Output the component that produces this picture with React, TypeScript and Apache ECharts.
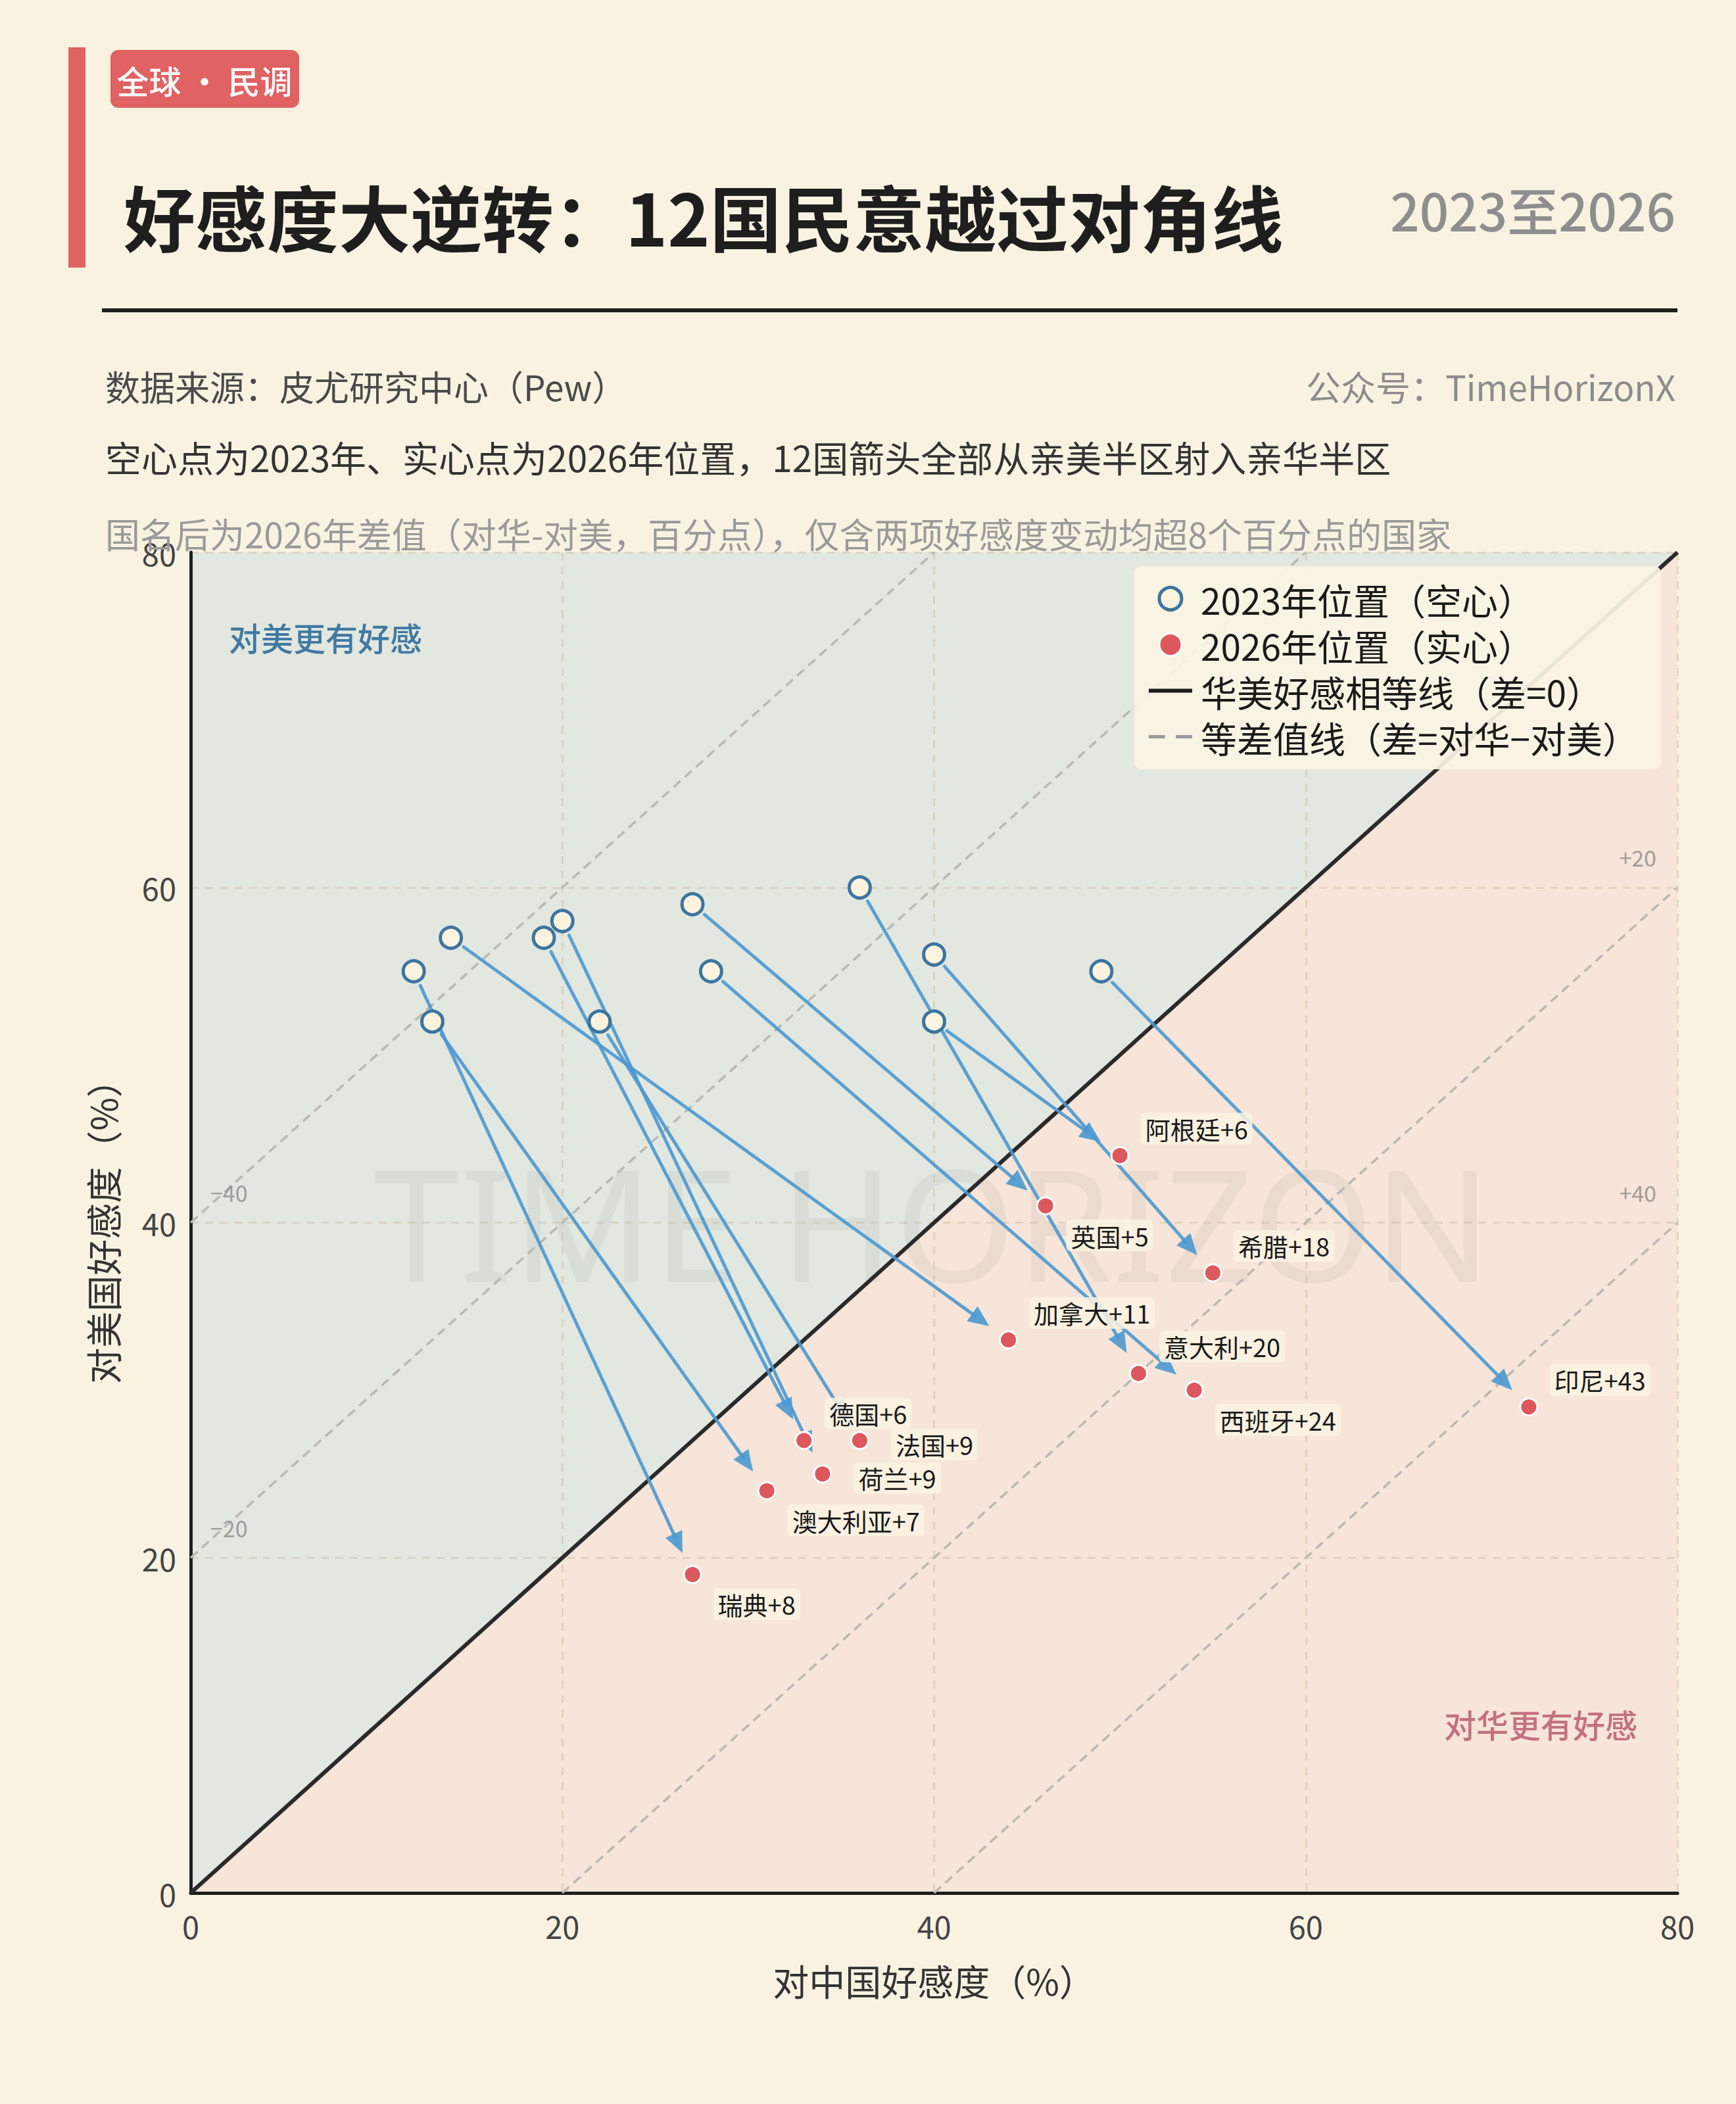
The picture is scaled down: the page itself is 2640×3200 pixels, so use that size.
import React, { useEffect, useRef } from 'react';
import * as echarts from 'echarts';

const FONT = '"Noto Sans CJK SC", "Noto Sans", sans-serif';

// Countries whose favourability towards both China and the US moved by more than 8 points
const countries = ['阿根廷', '英国', '希腊', '加拿大', '意大利', '西班牙', '印尼', '德国', '法国', '荷兰', '澳大利亚', '瑞典'];
// Favourability towards China (%)
const china2023 = [40, 27, 40, 14, 36, 28, 49, 19, 22, 20, 13, 12];
const china2026 = [50, 46, 55, 44, 51, 54, 72, 33, 36, 34, 31, 27];
// Favourability towards the US (%)
const usa2023 = [52, 59, 56, 57, 60, 55, 55, 57, 52, 58, 52, 55];
const usa2026 = [44, 41, 37, 33, 31, 30, 29, 27, 27, 25, 24, 19];

// Where each country's label sits relative to its 2026 dot
const labelSide = ['ur', 'dr', 'ur', 'ur', 'ur', 'dr', 'ur', 'ur', 'r', 'r', 'dr', 'dr'];

// Reference lines: China minus US = constant
const diffLevels = [-40, -20, 20, 40];
const axisMin = 0;
const axisMax = 80;
const axisStep = 20;

const NAME_2023 = '2023年位置（空心）';
const NAME_2026 = '2026年位置（实心）';
const NAME_EQ = '华美好感相等线（差=0）';
const NAME_DIFF = '等差值线（差=对华−对美）';

const C_BG = '#FAF2E1';
const C_US_ZONE = '#E2E7DF';
const C_CN_ZONE = '#F6E5D8';
const C_RING = '#3C75A0';
const C_DOT = '#DD585C';
const C_ARROW = '#4B98D0';
const C_RED = '#E06262';

const labelOffsets: Record<string, number[]> = {
  ur: [17, -41],
  dr: [17, 45],
  r: [33, 6],
};

const signed = (d: number) => (d > 0 ? `+${d}` : `−${Math.abs(d)}`);

export default function App() {
  const ref = useRef<HTMLDivElement>(null);

  useEffect(() => {
    document.body.style.margin = '0';
    document.body.style.background = C_BG;
    const chart = echarts.init(ref.current!, null, { renderer: 'svg' });

    const zones = [
      [[axisMin, axisMin], [axisMin, axisMax], [axisMax, axisMax]],
      [[axisMin, axisMin], [axisMax, axisMin], [axisMax, axisMax]],
    ];
    const zoneFills = [C_US_ZONE, C_CN_ZONE];

    const arrows = countries.map((_, i) => [china2023[i], usa2023[i], china2026[i], usa2026[i]]);

    const dots2026 = countries.map((name, i) => ({
      name,
      value: [china2026[i], usa2026[i], china2026[i] - usa2026[i]],
      label: { offset: labelOffsets[labelSide[i]] },
    }));

    const diffSeries = diffLevels.map((d) => ({
      name: NAME_DIFF,
      type: 'line',
      z: 2,
      silent: true,
      symbol: 'none',
      color: '#B9B9B4',
      lineStyle: { color: '#B9B9B4', width: 3.5, type: [14, 9] },
      data: d < 0
        ? [[axisMin, axisMin - d], [axisMax + d, axisMax]]
        : [[axisMin + d, axisMin], [axisMax, axisMax - d]],
    }));

    const diffLabelData = diffLevels.map((d) => ({
      value: d < 0 ? [axisMin, axisMin - d] : [axisMax, axisMax - d],
      name: signed(d),
      label: d < 0
        ? { position: 'right', offset: [30, -46] }
        : { position: 'left', offset: [-32, -46] },
    }));

    const option: any = {
      animation: false,
      backgroundColor: C_BG,
      textStyle: { fontFamily: FONT },
      grid: { left: 290, right: 89, top: 840, bottom: 321, containLabel: false },
      xAxis: {
        type: 'value', min: axisMin, max: axisMax, interval: axisStep, z: 1,
        name: '对中国好感度（%）', nameLocation: 'middle', nameGap: 104,
        nameTextStyle: { fontSize: 55, color: '#333', fontFamily: FONT },
        axisLine: { show: true, onZero: false, lineStyle: { color: '#1e1e1e', width: 5 } },
        axisTick: { show: false },
        axisLabel: { fontSize: 47, color: '#444', margin: 26, fontFamily: FONT },
        splitLine: { show: true, lineStyle: { color: 'rgba(205,188,160,0.45)', width: 3, type: [12, 10] } },
      },
      yAxis: {
        type: 'value', min: axisMin, max: axisMax, interval: axisStep, z: 1,
        name: '对美国好感度（%）', nameLocation: 'middle', nameGap: 108,
        nameTextStyle: { fontSize: 55, color: '#333', fontFamily: FONT },
        axisLine: { show: true, onZero: false, lineStyle: { color: '#1e1e1e', width: 5 } },
        axisTick: { show: false },
        axisLabel: { fontSize: 47, color: '#444', margin: 22, fontFamily: FONT },
        splitLine: { show: true, lineStyle: { color: 'rgba(205,188,160,0.45)', width: 3, type: [12, 10] } },
      },
      legend: {
        orient: 'vertical', right: 114, top: 861, z: 10,
        padding: [22, 34, 22, 22],
        backgroundColor: 'rgba(250,243,226,0.93)', borderRadius: 10,
        itemWidth: 66, itemHeight: 34, itemGap: 15,
        textStyle: { fontSize: 55, color: '#1a1a1a', fontFamily: FONT, padding: [0, 0, 0, 8] },
        selectedMode: false,
        data: [
          { name: NAME_2023, icon: 'circle', itemStyle: { color: '#FBF3DE', borderColor: C_RING, borderWidth: 5 } },
          { name: NAME_2026, icon: 'circle', itemStyle: { color: C_DOT, borderColor: '#ffffff', borderWidth: 3 } },
          { name: NAME_EQ, icon: 'path://M0,0H66V6H0Z', itemStyle: { color: '#1e1e1e', borderWidth: 0 } },
          { name: NAME_DIFF, icon: 'path://M0,0H24V5H0Z M40,0H64V5H40Z', itemStyle: { color: '#9a9a9a', borderWidth: 0 } },
        ],
      },
      graphic: [
        { type: 'rect', z: 5, shape: { x: 104, y: 72, width: 26, height: 335 }, style: { fill: C_RED } },
        { type: 'rect', z: 5, shape: { x: 168, y: 76, width: 287, height: 88, r: 12 }, style: { fill: C_RED } },
        { type: 'text', z: 6, x: 311, y: 121, style: { text: '全球 · 民调', fill: '#ffffff', fontSize: 49, fontFamily: FONT, fontWeight: 500, align: 'center', verticalAlign: 'middle' } },
        { type: 'text', z: 6, x: 188, y: 327, style: { text: '好感度大逆转：12国民意越过对角线', fill: '#1e1e1e', fontSize: 109, fontFamily: FONT, fontWeight: 'bold', align: 'left', verticalAlign: 'middle' } },
        { type: 'text', z: 6, x: 2548, y: 318, style: { text: '2023至2026', fill: '#8e8e8e', fontSize: 78, fontFamily: FONT, fontWeight: 500, align: 'right', verticalAlign: 'middle' } },
        { type: 'rect', z: 5, shape: { x: 155, y: 469, width: 2396, height: 6 }, style: { fill: '#1e1e1e' } },
        { type: 'text', z: 6, x: 160, y: 587, style: { text: '数据来源：皮尤研究中心（Pew）', fill: '#4a4a4a', fontSize: 53, fontFamily: FONT, align: 'left', verticalAlign: 'middle' } },
        { type: 'text', z: 6, x: 2548, y: 587, style: { text: '公众号：TimeHorizonX', fill: '#8c8c8c', fontSize: 53, fontFamily: FONT, align: 'right', verticalAlign: 'middle' } },
        { type: 'text', z: 6, x: 160, y: 694, style: { text: '空心点为2023年、实心点为2026年位置，12国箭头全部从亲美半区射入亲华半区', fill: '#333333', fontSize: 55, fontFamily: FONT, align: 'left', verticalAlign: 'middle' } },
        { type: 'text', z: 6, x: 160, y: 811, style: { text: '国名后为2026年差值（对华-对美，百分点），仅含两项好感度变动均超8个百分点的国家', fill: '#9a9a9a', fontSize: 53, fontFamily: FONT, align: 'left', verticalAlign: 'middle' } },
        { type: 'text', z: 1, x: 1418, y: 1858, style: { text: 'TIME HORIZON', fill: 'rgba(0,0,0,0.045)', fontSize: 236, fontFamily: '"Noto Sans", "Open Sans", sans-serif', align: 'center', verticalAlign: 'middle' } },
        { type: 'text', z: 1, x: 348, y: 968, style: { text: '对美更有好感', fill: '#4079A3', fontSize: 49, fontFamily: FONT, fontWeight: 500, align: 'left', verticalAlign: 'middle' } },
        { type: 'text', z: 1, x: 2490, y: 2621, style: { text: '对华更有好感', fill: '#C3717F', fontSize: 49, fontFamily: FONT, fontWeight: 500, align: 'right', verticalAlign: 'middle' } },
      ],
      series: [
        {
          name: 'zones',
          type: 'custom',
          z: 0,
          silent: true,
          data: zones.map((_, i) => [i, i]),
          renderItem: (params: any, api: any) => ({
            type: 'polygon',
            shape: { points: zones[params.dataIndex].map((p) => api.coord(p)) },
            style: { fill: zoneFills[params.dataIndex] },
          }),
        },
        ...diffSeries,
        {
          name: 'diffLabels',
          type: 'scatter',
          z: 2,
          silent: true,
          symbolSize: 0,
          data: diffLabelData,
          label: {
            show: true, distance: 0, formatter: (p: any) => p.name,
            fontSize: 34, color: '#8a8a8a', fontFamily: FONT,
          },
        },
        {
          name: NAME_EQ,
          type: 'line',
          z: 2,
          silent: true,
          symbol: 'none',
          color: '#2a2a2a',
          lineStyle: { color: '#2a2a2a', width: 6 },
          data: [[axisMin, axisMin], [axisMax, axisMax]],
        },
        {
          name: 'arrows',
          type: 'custom',
          z: 3,
          silent: true,
          data: arrows,
          encode: { x: [0, 2], y: [1, 3] },
          renderItem: (params: any, api: any) => {
            const p0 = api.coord([api.value(0), api.value(1)]);
            const p1 = api.coord([api.value(2), api.value(3)]);
            const dx = p1[0] - p0[0];
            const dy = p1[1] - p0[1];
            const len = Math.hypot(dx, dy);
            const ux = dx / len;
            const uy = dy / len;
            const nx = -uy;
            const ny = ux;
            const sx = p0[0] + ux * 24;
            const sy = p0[1] + uy * 24;
            const tx = p1[0] - ux * 36;
            const ty = p1[1] - uy * 36;
            const bx = tx - ux * 32;
            const by = ty - uy * 32;
            return {
              type: 'group',
              children: [
                {
                  type: 'line',
                  shape: { x1: sx, y1: sy, x2: bx + ux * 6, y2: by + uy * 6 },
                  style: { stroke: C_ARROW, lineWidth: 5, lineCap: 'round', opacity: 0.9 },
                },
                {
                  type: 'polygon',
                  shape: { points: [[tx, ty], [bx + nx * 14, by + ny * 14], [bx - nx * 14, by - ny * 14]] },
                  style: { fill: C_ARROW, opacity: 0.9 },
                },
              ],
            };
          },
        },
        {
          name: NAME_2023,
          type: 'scatter',
          z: 4,
          symbol: 'circle',
          symbolSize: 32,
          itemStyle: { color: '#FBF3DE', borderColor: C_RING, borderWidth: 5, opacity: 1 },
          data: countries.map((name, i) => ({ name, value: [china2023[i], usa2023[i]] })),
        },
        {
          name: NAME_2026,
          type: 'scatter',
          z: 5,
          symbol: 'circle',
          symbolSize: 26,
          itemStyle: { color: C_DOT, borderColor: '#ffffff', borderWidth: 3, opacity: 1 },
          data: dots2026,
          label: {
            show: true,
            position: 'right',
            distance: 0,
            formatter: (p: any) => `${p.name}${signed(p.value[2])}`,
            fontSize: 38,
            color: '#1a1a1a',
            fontFamily: FONT,
            backgroundColor: 'rgba(250,243,226,0.85)',
            padding: [6, 7, 4, 7],
            borderRadius: 6,
          },
        },
      ],
    };

    chart.setOption(option);
    return () => chart.dispose();
  }, []);

  return <div ref={ref} style={{ width: 2640, height: 3200 }} />;
}
